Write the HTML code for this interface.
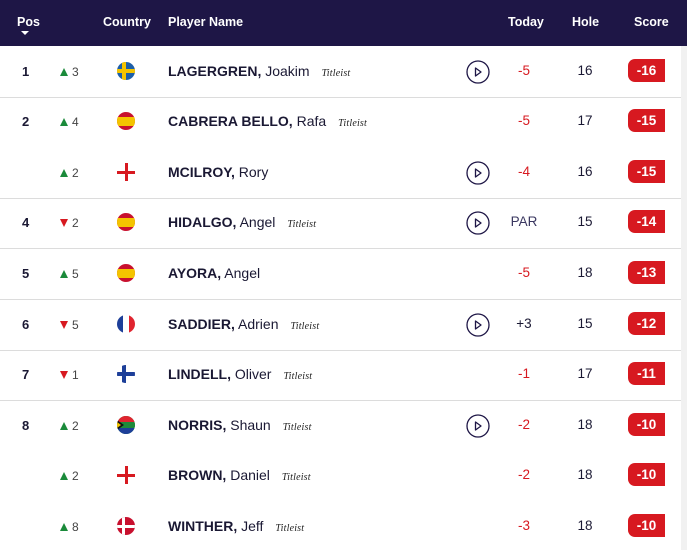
<!DOCTYPE html>
<html><head><meta charset="utf-8"><style>
*{margin:0;padding:0;box-sizing:border-box}
body{width:687px;height:550px;overflow:hidden;background:#fff;font-family:"Liberation Sans",sans-serif;position:relative;color:#1a1833}
.hdr{position:absolute;left:0;top:0;width:687px;height:46px;background:#1e1646;color:#fff;font-size:12.5px;font-weight:bold}
.hdr span{position:absolute;top:15px}
.strip{position:absolute;left:681px;top:46px;width:6px;height:504px;background:#f1f1f1}
.sep{position:absolute;left:0;width:681px;height:1px;background:#dcdcdc}
.row{position:absolute;left:0;width:681px;height:50px}
.pos{position:absolute;left:22px;top:18px;font-size:13px;font-weight:bold}
.mv{position:absolute;left:60px;top:19px;font-size:12px;color:#444}
.up{display:inline-block;width:0;height:0;border-left:4px solid transparent;border-right:4px solid transparent;border-bottom:8px solid #1a8a3a;margin-right:4px}
.dn{display:inline-block;width:0;height:0;border-left:4px solid transparent;border-right:4px solid transparent;border-top:8px solid #d71920;margin-right:4px}
.flag{position:absolute;left:117px;top:16px;width:18px;height:18px;border-radius:50%;overflow:hidden}
.nm{position:absolute;left:168px;top:17px;font-size:14px;white-space:nowrap}
.tl{font-family:"Liberation Serif",serif;font-style:italic;font-size:10px;margin-left:12px;letter-spacing:0.2px;color:#222}
.play{position:absolute;left:466px;top:14px;width:24px;height:24px}
.td{position:absolute;left:494px;width:60px;text-align:center;top:17px;font-size:13.5px;color:#d71920}
.hl{position:absolute;left:565px;width:40px;text-align:center;top:17px;font-size:13.5px}
.sc{position:absolute;left:628px;top:13px;width:37px;height:23px;background:#d71920;color:#fff;font-size:13.5px;font-weight:bold;text-align:center;line-height:23px;border-radius:7px 0 0 7px}
</style></head><body>
<div class="hdr">
<span style="left:17px">Pos</span>
<div style="position:absolute;left:21px;top:31px;border-left:4px solid transparent;border-right:4px solid transparent;border-top:4px solid #fff"></div>
<span style="left:103px">Country</span>
<span style="left:168px">Player Name</span>
<span style="left:508px">Today</span>
<span style="left:572px">Hole</span>
<span style="left:634px">Score</span>
</div>
<div class="strip"></div>
<div class="sep" style="top:97px"></div>
<div class="sep" style="top:198px"></div>
<div class="sep" style="top:248px"></div>
<div class="sep" style="top:299px"></div>
<div class="sep" style="top:350px"></div>
<div class="sep" style="top:400px"></div>

<div class="row" style="top:46px"><span class="pos">1</span><span class="mv"><i class="up"></i>3</span>
<div class="flag" style="background:#1d5fa8"><div style="position:absolute;left:5px;top:0;width:3.5px;height:18px;background:#f4c400"></div><div style="position:absolute;left:0;top:7px;width:18px;height:3.5px;background:#f4c400"></div></div>
<div class="nm"><b>LAGERGREN,</b> Joakim<span class="tl">Titleist</span></div><svg class="play" viewBox="0 0 24 24"><circle cx="12" cy="12" r="11" fill="none" stroke="#1e1646" stroke-width="1.3"/><path d="M9.5 8 L15 12 L9.5 16 Z" fill="none" stroke="#1e1646" stroke-width="1.3" stroke-linejoin="round"/></svg><div class="td">-5</div><div class="hl">16</div><div class="sc">-16</div></div>

<div class="row" style="top:96px"><span class="pos">2</span><span class="mv"><i class="up"></i>4</span>
<div class="flag" style="background:#c8102e"><div style="position:absolute;left:0;top:4.5px;width:18px;height:9px;background:#f4c400"></div></div>
<div class="nm"><b>CABRERA BELLO,</b> Rafa<span class="tl">Titleist</span></div><div class="td">-5</div><div class="hl">17</div><div class="sc">-15</div></div>

<div class="row" style="top:147px"><span class="mv"><i class="up"></i>2</span>
<div class="flag" style="background:#fff;border-radius:0"><div style="position:absolute;left:7.5px;top:0;width:3px;height:18px;background:#d71920"></div><div style="position:absolute;left:0;top:7.5px;width:18px;height:3px;background:#d71920"></div></div>
<div class="nm"><b>MCILROY,</b> Rory</div><svg class="play" viewBox="0 0 24 24"><circle cx="12" cy="12" r="11" fill="none" stroke="#1e1646" stroke-width="1.3"/><path d="M9.5 8 L15 12 L9.5 16 Z" fill="none" stroke="#1e1646" stroke-width="1.3" stroke-linejoin="round"/></svg><div class="td">-4</div><div class="hl">16</div><div class="sc">-15</div></div>

<div class="row" style="top:197px"><span class="pos">4</span><span class="mv"><i class="dn"></i>2</span>
<div class="flag" style="background:#c8102e"><div style="position:absolute;left:0;top:4.5px;width:18px;height:9px;background:#f4c400"></div></div>
<div class="nm"><b>HIDALGO,</b> Angel<span class="tl">Titleist</span></div><svg class="play" viewBox="0 0 24 24"><circle cx="12" cy="12" r="11" fill="none" stroke="#1e1646" stroke-width="1.3"/><path d="M9.5 8 L15 12 L9.5 16 Z" fill="none" stroke="#1e1646" stroke-width="1.3" stroke-linejoin="round"/></svg><div class="td" style="color:#3a3760">PAR</div><div class="hl">15</div><div class="sc">-14</div></div>

<div class="row" style="top:248px"><span class="pos">5</span><span class="mv"><i class="up"></i>5</span>
<div class="flag" style="background:#c8102e"><div style="position:absolute;left:0;top:4.5px;width:18px;height:9px;background:#f4c400"></div></div>
<div class="nm"><b>AYORA,</b> Angel</div><div class="td">-5</div><div class="hl">18</div><div class="sc">-13</div></div>

<div class="row" style="top:299px"><span class="pos">6</span><span class="mv"><i class="dn"></i>5</span>
<div class="flag" style="background:#fff"><div style="position:absolute;left:0;top:0;width:6px;height:18px;background:#1d3f99"></div><div style="position:absolute;left:12px;top:0;width:6px;height:18px;background:#e0242f"></div></div>
<div class="nm"><b>SADDIER,</b> Adrien<span class="tl">Titleist</span></div><svg class="play" viewBox="0 0 24 24"><circle cx="12" cy="12" r="11" fill="none" stroke="#1e1646" stroke-width="1.3"/><path d="M9.5 8 L15 12 L9.5 16 Z" fill="none" stroke="#1e1646" stroke-width="1.3" stroke-linejoin="round"/></svg><div class="td" style="color:#1a1833">+3</div><div class="hl">15</div><div class="sc">-12</div></div>

<div class="row" style="top:349px"><span class="pos">7</span><span class="mv"><i class="dn"></i>1</span>
<div class="flag" style="background:#fff"><div style="position:absolute;left:5px;top:0;width:3.5px;height:18px;background:#1d3f99"></div><div style="position:absolute;left:0;top:7px;width:18px;height:3.5px;background:#1d3f99"></div></div>
<div class="nm"><b>LINDELL,</b> Oliver<span class="tl">Titleist</span></div><div class="td">-1</div><div class="hl">17</div><div class="sc">-11</div></div>

<div class="row" style="top:400px"><span class="pos">8</span><span class="mv"><i class="up"></i>2</span>
<div class="flag" style="background:#1e8a3a"><div style="position:absolute;left:0;top:0;width:18px;height:6px;background:#e0242f"></div><div style="position:absolute;left:0;top:12px;width:18px;height:6px;background:#1d3f99"></div><div style="position:absolute;left:0;top:7px;width:18px;height:4px;background:#1e8a3a"></div><div style="position:absolute;left:0;top:4px;border-left:7px solid #111;border-top:5px solid transparent;border-bottom:5px solid transparent"></div><div style="position:absolute;left:0;top:6px;border-left:4px solid #f4c400;border-top:3px solid transparent;border-bottom:3px solid transparent"></div></div>
<div class="nm"><b>NORRIS,</b> Shaun<span class="tl">Titleist</span></div><svg class="play" viewBox="0 0 24 24"><circle cx="12" cy="12" r="11" fill="none" stroke="#1e1646" stroke-width="1.3"/><path d="M9.5 8 L15 12 L9.5 16 Z" fill="none" stroke="#1e1646" stroke-width="1.3" stroke-linejoin="round"/></svg><div class="td">-2</div><div class="hl">18</div><div class="sc">-10</div></div>

<div class="row" style="top:450px"><span class="mv"><i class="up"></i>2</span>
<div class="flag" style="background:#fff;border-radius:0"><div style="position:absolute;left:7.5px;top:0;width:3px;height:18px;background:#d71920"></div><div style="position:absolute;left:0;top:7.5px;width:18px;height:3px;background:#d71920"></div></div>
<div class="nm"><b>BROWN,</b> Daniel<span class="tl">Titleist</span></div><div class="td">-2</div><div class="hl">18</div><div class="sc">-10</div></div>

<div class="row" style="top:501px"><span class="mv"><i class="up"></i>8</span>
<div class="flag" style="background:#c8102e"><div style="position:absolute;left:5px;top:0;width:3px;height:18px;background:#fff"></div><div style="position:absolute;left:0;top:7.5px;width:18px;height:3px;background:#fff"></div></div>
<div class="nm"><b>WINTHER,</b> Jeff<span class="tl">Titleist</span></div><div class="td">-3</div><div class="hl">18</div><div class="sc">-10</div></div>
</body></html>
